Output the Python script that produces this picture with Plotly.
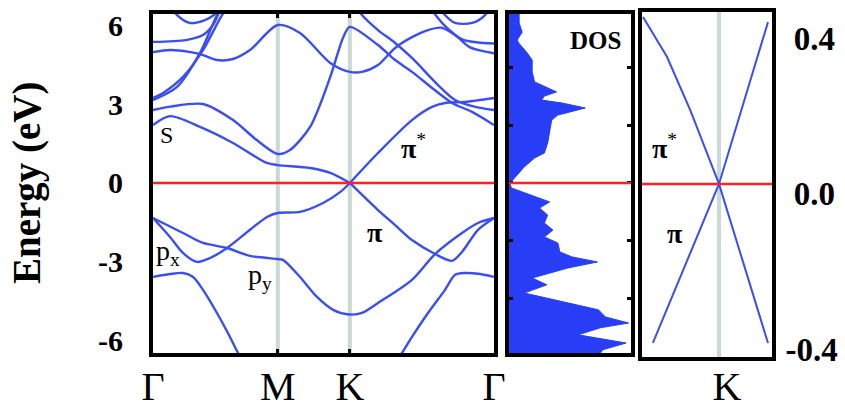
import plotly.graph_objects as go

# ---------------- data ----------------
K_PATH = [0.0, 0.866, 1.366, 2.366]
K_LABELS = ["Γ", "M", "K", "Γ"]
E_TICKS = [-6, -3, 0, 3, 6]
E_TICK_TEXT = ["-6", "-3", "0", "3", "6"]

# valence bands
V1_K = [0, 0.118, 0.208, 0.305, 0.396, 0.514, 0.673, 0.791, 0.866, 1.02, 1.18, 1.30, 1.366, None,
        1.366, 1.561, 1.68, 1.797, 1.957, 2.075, 2.144, 2.255, 2.366]
V1_E = [-1.33, -2.05, -2.66, -3.0, -2.85, -2.47, -1.78, -1.29, -1.14, -1.10, -0.76, -0.34, 0, None,
        0, -1.03, -1.6, -2.17, -2.70, -2.96, -2.62, -1.78, -1.33]
V2_K = [0, 0.208, 0.347, 0.514, 0.673, 0.866, 0.902, 1.02, 1.138, 1.25, 1.366, 1.45, 1.561, 1.797,
        1.957, 2.144, 2.255, 2.366]
V2_E = [-1.33, -1.90, -2.28, -2.47, -2.77, -2.89, -2.92, -3.57, -4.33, -4.82, -5.0, -4.94, -4.56,
        -3.68, -2.70, -1.9, -1.52, -1.33]
V3_K = [0, 0.118, 0.208, 0.278, 0.347, 0.444, 0.534, 0.59, 0.70, 0.866, 1.366, 1.60, 1.728, 1.797,
        1.908, 2.026, 2.096, 2.165, 2.27, 2.366]
V3_E = [-3.57, -3.46, -3.42, -3.57, -4.06, -4.94, -5.85, -6.46, -7.4, -8.5, -9.0, -7.6, -6.46, -5.85,
        -4.94, -4.06, -3.49, -3.42, -3.46, -3.57]

# conduction bands
C1_K = [0, 0.118, 0.326, 0.555, 0.79, 0.866, 1.09, 1.23, 1.366, None,
        1.366, 1.561, 1.797, 1.936, 2.026, 2.165, 2.366]
C1_E = [2.2, 2.54, 2.13, 1.52, 0.76, 0.68, 0.57, 0.38, 0, None,
        0, 1.14, 2.39, 2.89, 3.04, 3.08, 3.23]
C2_K = [0, 0.118, 0.347, 0.555, 0.72, 0.866, 0.95, 1.09, 1.23, 1.32, 1.366, 1.561, 1.68, 1.797,
        1.936, 2.075, 2.214, 2.366]
C2_E = [2.77, 2.90, 3.0, 2.39, 1.63, 1.1, 1.25, 2.13, 4.03, 5.54, 5.93, 5.24, 4.67, 4.22,
        3.61, 3.04, 2.70, 2.2]
C3_K = [1.40, 1.45, 1.561, 1.68, 1.797, 1.978, 2.096, 2.23, 2.366]
C3_E = [6.8, 6.38, 5.81, 5.32, 4.75, 3.72, 3.15, 2.9, 2.77]
C4_K = [0, 0.07, 0.208, 0.347, 0.479, 0.55]
C4_E = [3.23, 3.42, 4.03, 5.05, 6.38, 6.9]
C5_K = [0, 0.167, 0.326, 0.444, 0.50]
C5_E = [3.15, 3.65, 4.94, 6.38, 6.9]
C6_K = [0, 0.229, 0.347, 0.416, 0.46]
C6_E = [5.36, 5.43, 5.62, 6.0, 6.5]
C7_K = [0, 0.118, 0.25, 0.347, 0.444, 0.555, 0.673, 0.866, 1.02, 1.23, 1.366, 1.45, 1.561, 1.68,
        1.797, 1.908, 2.0, 2.1, 2.2, 2.366]
C7_E = [4.97, 5.05, 4.98, 4.86, 4.67, 4.71, 5.05, 6.0, 5.7, 4.56, 4.22, 4.22, 4.48, 5.13,
        5.54, 5.81, 5.9, 5.6, 5.15, 4.93]
C8_K = [1.93, 2.02, 2.15, 2.366]
C8_E = [6.6, 6.0, 5.45, 5.3]
C9_K = [0.10, 0.167, 0.257, 0.36, 0.43, 0.50]
C9_E = [6.9, 6.38, 6.08, 6.19, 6.42, 6.9]
C10_K = [1.96, 2.026, 2.096, 2.214, 2.304, 2.36]
C10_E = [6.9, 6.38, 6.08, 6.08, 6.38, 6.9]

BANDS = [(V1_K, V1_E), (V2_K, V2_E), (V3_K, V3_E), (C1_K, C1_E), (C2_K, C2_E), (C3_K, C3_E),
         (C4_K, C4_E), (C5_K, C5_E), (C6_K, C6_E), (C7_K, C7_E), (C8_K, C8_E), (C9_K, C9_E),
         (C10_K, C10_E)]

# density of states (relative units)
DOS_E = [6.42, 6.38, 6.08, 5.73, 5.43, 5.3, 4.94, 4.67, 4.22, 3.84, 3.61, 3.46, 3.3, 3.15, 3.04,
         2.85, 2.70, 2.58, 2.39, 2.01, 1.52, 1.14, 0.95, 0.61, 0.23, 0.04, 0.0,
         -0.05, -0.19, -0.46, -0.72, -0.95, -1.22, -1.52, -1.79, -2.05, -2.28, -2.62, -2.81, -3.0,
         -3.23, -3.61, -3.87, -4.18, -4.44, -4.82, -5.09, -5.32, -5.5, -5.77, -6.08, -6.34, -6.46]
DOS_V = [0.083, 0.083, 0.083, 0.108, 0.067, 0.083, 0.15, 0.19, 0.19, 0.21, 0.317, 0.39, 0.29,
         0.267, 0.433, 0.625, 0.5, 0.4, 0.35, 0.333, 0.317, 0.29, 0.21, 0.125, 0.058, 0.017, 0.0,
         0.01, 0.02, 0.183, 0.333, 0.25, 0.317, 0.29, 0.36, 0.29, 0.4, 0.417, 0.517, 0.725,
         0.483, 0.19, 0.31, 0.125, 0.375, 0.733, 0.79, 0.98, 0.75, 0.567, 0.96, 0.767, 0.75]

# zoom near K (local k, energy)
ZK_A = [-0.108, -0.074, -0.041, 0.0, 0.0697]
ZE_A = [0.428, 0.326, 0.19, 0.0, -0.408]
ZK_B = [-0.094, 0.0, 0.0697]
ZE_B = [-0.408, 0.0, 0.415]
ZOOM_TICKS = [-0.4, 0.0, 0.4]
ZOOM_TICK_TEXT = ["-0.4", "\u00a00.0", "\u00a00.4"]

# ---------------- styling ----------------
BLUE = "rgb(58,78,242)"
FILL = "rgb(40,62,246)"
RED = "#ff2222"
GRAY = "#c9d9d3"
SERIF = "Liberation Serif"

fig = go.Figure()
for kk, ee in BANDS:
    fig.add_trace(go.Scatter(x=kk, y=ee, mode="lines", xaxis="x", yaxis="y",
                             line=dict(color=BLUE, width=2.4, shape="spline", smoothing=0.8),
                             connectgaps=False, hoverinfo="skip", showlegend=False))

fig.add_trace(go.Scatter(x=DOS_V, y=DOS_E, mode="lines", xaxis="x2", yaxis="y2",
                         fill="tozerox", fillcolor=FILL, line=dict(color=FILL, width=1),
                         hoverinfo="skip", showlegend=False))

for kk, ee in [(ZK_A, ZE_A), (ZK_B, ZE_B)]:
    fig.add_trace(go.Scatter(x=kk, y=ee, mode="lines", xaxis="x3", yaxis="y3",
                             line=dict(color=BLUE, width=2.0),
                             hoverinfo="skip", showlegend=False))

frame = dict(showline=True, linecolor="black", linewidth=4, mirror="ticks",
             showgrid=False, zeroline=False, automargin=False)

YDOM = [1 - 353 / 411, 1 - 14 / 411]
ERANGE = [-6.46, 6.42]

fig.update_layout(
    template="none",
    width=845, height=411, margin=dict(l=0, r=0, t=0, b=0, autoexpand=False),
    paper_bgcolor="white", plot_bgcolor="white",
    xaxis=dict(domain=[153 / 845, 494 / 845], range=[K_PATH[0], K_PATH[-1]],
               tickvals=K_PATH, ticktext=K_LABELS, ticks="inside", ticklen=4, tickwidth=3,
               tickcolor="black", tickfont=dict(family=SERIF, size=40, color="black"),
               ticklabelstandoff=-5, **frame),
    yaxis=dict(domain=YDOM, range=ERANGE, tickvals=E_TICKS, ticktext=E_TICK_TEXT, ticks="",
               tickfont=dict(family=SERIF, size=30, color="black", weight="bold"),
               ticklabelstandoff=20, **frame),
    xaxis2=dict(domain=[509 / 845, 631 / 845], range=[0, 1], showticklabels=False, ticks="",
                **frame),
    yaxis2=dict(domain=YDOM, range=ERANGE, matches="y", showticklabels=False, ticks="inside",
                ticklen=4, tickwidth=3, tickcolor="black", tick0=0, dtick=2.2, anchor="x2",
                **frame),
    xaxis3=dict(domain=[642 / 845, 772 / 845], range=[-0.1095, 0.0754], tickvals=[0],
                ticktext=["K"], ticks="", tickfont=dict(family=SERIF, size=40, color="black"),
                ticklabelstandoff=-9, ticklabelshift=8, anchor="y3", **frame),
    yaxis3=dict(domain=[1 - 357 / 411, 1 - 12 / 411], range=[-0.444, 0.441], side="right",
                anchor="x3", tickvals=ZOOM_TICKS, ticktext=ZOOM_TICK_TEXT, ticks="",
                tickfont=dict(family=SERIF, size=33, color="black", weight="bold"),
                ticklabelstandoff=3, ticklabelshift=10, **frame),
)

shapes = []
for kv in K_PATH[1:3]:
    shapes.append(dict(type="line", xref="x", yref="y domain", x0=kv, x1=kv, y0=0, y1=1,
                       line=dict(color=GRAY, width=4), layer="below"))
shapes.append(dict(type="line", xref="x3", yref="y3 domain", x0=0, x1=0, y0=0, y1=1,
                   line=dict(color=GRAY, width=4), layer="below"))
for xr, yr in [("x domain", "y"), ("x2 domain", "y2"), ("x3 domain", "y3")]:
    shapes.append(dict(type="line", xref=xr, yref=yr, x0=0, x1=1, y0=0, y1=0,
                       line=dict(color=RED, width=2.5)))
fig.update_layout(shapes=shapes)

ann = [
    dict(x=0.097, y=1.82, xref="x", yref="y", text="S", font=dict(size=24)),
    dict(x=1.804, y=1.37, xref="x", yref="y", text="<b>π</b><sup>*</sup>", font=dict(size=28)),
    dict(x=1.54, y=-1.9, xref="x", yref="y", text="<b>π</b>", font=dict(size=28)),
    dict(x=0.104, y=-2.66, xref="x", yref="y", text="p<sub>x</sub>", font=dict(size=28)),
    dict(x=0.743, y=-3.57, xref="x", yref="y", text="p<sub>y</sub>", font=dict(size=28)),
    dict(x=-0.077, y=0.095, xref="x3", yref="y3", text="<b>π</b><sup>*</sup>", font=dict(size=28)),
    dict(x=-0.0626, y=-0.126, xref="x3", yref="y3", text="<b>π</b>", font=dict(size=28)),
    dict(x=0.71, y=5.43, xref="x2", yref="y2", text="<b>DOS</b>", font=dict(size=25)),
    dict(x=27 / 845, y=1 - 183 / 411, xref="paper", yref="paper", text="<b>Energy (eV)</b>",
         textangle=-90, font=dict(size=39)),
]
for a in ann:
    a["showarrow"] = False
    a["xanchor"] = "center"
    a["yanchor"] = "middle"
    a["font"]["family"] = SERIF
    a["font"]["color"] = "black"
fig.update_layout(annotations=ann)

fig.write_html("out.html", config={"displayModeBar": False},
               post_script="document.body.style.margin='0';")
